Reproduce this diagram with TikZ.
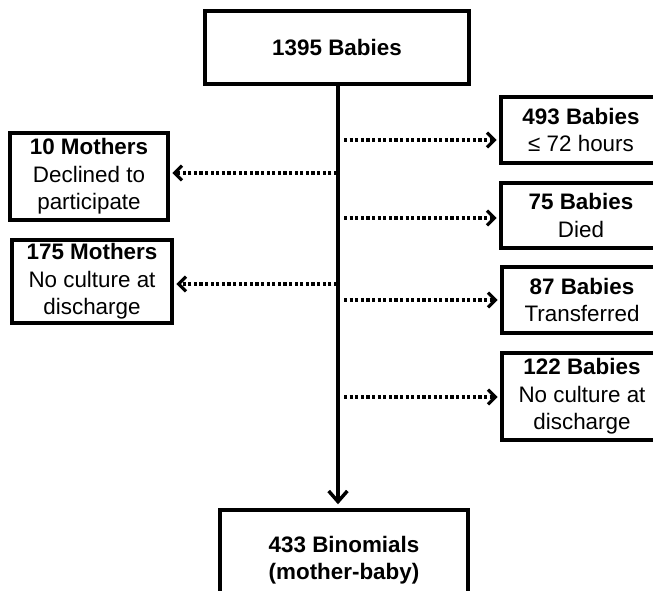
\documentclass[tikz,border=0pt]{standalone}
\usepackage{fontspec}
\setmainfont{Liberation Sans}
\usetikzlibrary{positioning,arrows.meta}

\begin{document}
\begin{tikzpicture}[
  x=0.75pt, y=-0.75pt,
  box/.style={draw, line width=2.6pt, align=center, inner sep=2pt, font=\fontsize{16.8}{20.6}\selectfont},
  main/.style={line width=3pt, -{Straight Barb[length=8pt, width=14pt, line width=2.6pt]}},
  side/.style={line width=2.6pt, dash pattern=on 2.4pt off 1.8pt, -{Straight Barb[length=5.5pt, width=11pt, line width=2.4pt]}, shorten >=2pt}]
\clip (0,0) rectangle (653,590);
\fill[white] (0,0) rectangle (653,590);
% top and bottom
\node[box, minimum width=198pt, minimum height=54.75pt] (babies) at (337,47.5) {\textbf{1395 Babies}};
\node[box, minimum width=186pt, minimum height=75pt] (binom) at (344,560) {\textbf{433 Binomials}\\\textbf{(mother-baby)}};
% excluded, left
\node[box, minimum width=118.5pt, minimum height=65.25pt] (moth10) at (89,176.5) {\textbf{10 Mothers}\\Declined to\\participate};
\node[box, minimum width=120pt, minimum height=62.25pt] (moth175) at (92,281.5) {\textbf{175 Mothers}\\No culture at\\discharge};
% excluded, right
\node[box, minimum width=120pt, minimum height=49.5pt] (bab493) at (581,130) {\textbf{493 Babies}\\≤ 72 hours};
\node[box, minimum width=120pt, minimum height=48.75pt] (bab75) at (581,215.5) {\textbf{75 Babies}\\Died};
\node[box, minimum width=120pt, minimum height=49.5pt] (bab87) at (582,300) {\textbf{87 Babies}\\Transferred};
\node[box, minimum width=120pt, minimum height=65.25pt] (bab122) at (582,396.5) {\textbf{122 Babies}\\No culture at\\discharge};
% branch points on the spine
\coordinate (r1) at (344,140);
\coordinate (l1) at (337,173);
\coordinate (r2) at (344,218);
\coordinate (l2) at (337,284);
\coordinate (r3) at (344,300);
\coordinate (r4) at (344,397);
\draw[main, shorten >=3pt] ([xshift=0.75pt]babies.south) -- ([xshift=0.75pt]babies.south |- binom.north);
\draw[side] (r1) -- (r1 -| bab493.west);
\draw[side] (r2) -- (r2 -| bab75.west);
\draw[side] (r3) -- (r3 -| bab87.west);
\draw[side] (r4) -- (r4 -| bab122.west);
\draw[side] (l1) -- (l1 -| moth10.east);
\draw[side] (l2) -- (l2 -| moth175.east);
\end{tikzpicture}
\end{document}
